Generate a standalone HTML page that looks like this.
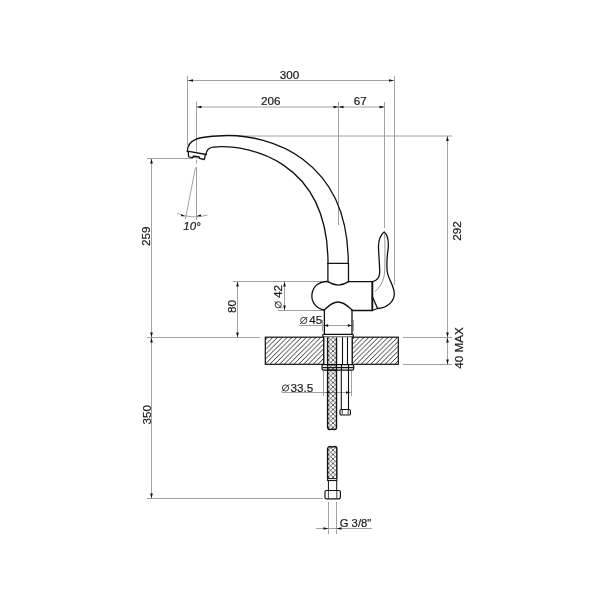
<!DOCTYPE html>
<html><head><meta charset="utf-8"><style>
html,body{margin:0;padding:0;background:#fff;width:600px;height:600px;overflow:hidden}
svg{display:block;font-family:"Liberation Sans",sans-serif;will-change:transform}
</style></head><body>
<svg width="600" height="600" viewBox="0 0 600 600">
<line x1="187.5" y1="76" x2="187.5" y2="145" stroke="#a2a2a2" stroke-width="1"/>
<line x1="196.5" y1="101.5" x2="196.5" y2="151.5" stroke="#a2a2a2" stroke-width="1"/>
<line x1="338.5" y1="102" x2="338.5" y2="225" stroke="#a2a2a2" stroke-width="1"/>
<line x1="384.5" y1="102" x2="384.5" y2="228" stroke="#a2a2a2" stroke-width="1"/>
<line x1="394.5" y1="76" x2="394.5" y2="285" stroke="#a2a2a2" stroke-width="1"/>
<line x1="188" y1="80.5" x2="394" y2="80.5" stroke="#a2a2a2" stroke-width="1"/>
<line x1="196" y1="107" x2="384" y2="107" stroke="#a2a2a2" stroke-width="1"/>
<line x1="238" y1="136" x2="452" y2="136" stroke="#a2a2a2" stroke-width="1"/>
<line x1="447.5" y1="136" x2="447.5" y2="364.5" stroke="#a2a2a2" stroke-width="1"/>
<line x1="147" y1="158.5" x2="193" y2="158.5" stroke="#a2a2a2" stroke-width="1"/>
<line x1="151.5" y1="158" x2="151.5" y2="498.5" stroke="#a2a2a2" stroke-width="1"/>
<line x1="147" y1="337.5" x2="260" y2="337.5" stroke="#a2a2a2" stroke-width="1"/>
<line x1="403" y1="337.5" x2="452" y2="337.5" stroke="#a2a2a2" stroke-width="1"/>
<line x1="403" y1="364.5" x2="452" y2="364.5" stroke="#a2a2a2" stroke-width="1"/>
<line x1="147" y1="498.5" x2="323" y2="498.5" stroke="#a2a2a2" stroke-width="1"/>
<line x1="233" y1="281.5" x2="321" y2="281.5" stroke="#a2a2a2" stroke-width="1"/>
<line x1="237.5" y1="281.5" x2="237.5" y2="337" stroke="#a2a2a2" stroke-width="1"/>
<line x1="284.5" y1="281.5" x2="284.5" y2="310.5" stroke="#a2a2a2" stroke-width="1"/>
<line x1="278" y1="310.5" x2="324" y2="310.5" stroke="#a2a2a2" stroke-width="1"/>
<line x1="299" y1="325.5" x2="353" y2="325.5" stroke="#a2a2a2" stroke-width="1"/>
<line x1="322.5" y1="320" x2="322.5" y2="331" stroke="#a2a2a2" stroke-width="1"/>
<line x1="353.5" y1="320" x2="353.5" y2="331" stroke="#a2a2a2" stroke-width="1"/>
<line x1="281.7" y1="392.5" x2="351.5" y2="392.5" stroke="#a2a2a2" stroke-width="1"/>
<line x1="323.5" y1="370.5" x2="323.5" y2="396" stroke="#a2a2a2" stroke-width="1"/>
<line x1="351.5" y1="370.5" x2="351.5" y2="396" stroke="#a2a2a2" stroke-width="1"/>
<line x1="328.5" y1="502" x2="328.5" y2="534" stroke="#a2a2a2" stroke-width="1"/>
<line x1="336.5" y1="502" x2="336.5" y2="534" stroke="#a2a2a2" stroke-width="1"/>
<line x1="316" y1="528.5" x2="372" y2="528.5" stroke="#a2a2a2" stroke-width="1"/>
<line x1="196.5" y1="160" x2="196.5" y2="163.5" stroke="#a2a2a2" stroke-width="1"/>
<line x1="196.5" y1="167" x2="196.5" y2="220" stroke="#a2a2a2" stroke-width="1"/>
<line x1="195.5" y1="167.5" x2="185.3" y2="219.5" stroke="#a2a2a2" stroke-width="1"/>
<path d="M177.3 213.3 Q192 219.5 207.5 215" fill="none" stroke="#a2a2a2" stroke-width="1"/>
<polygon points="185.50,216.30 180.87,216.28 181.40,214.14" fill="#111"/>
<polygon points="196.50,216.30 200.60,214.14 201.13,216.28" fill="#111"/>
<polygon points="188.00,80.50 193.00,79.20 193.00,81.80" fill="#111"/>
<polygon points="394.00,80.50 389.00,81.80 389.00,79.20" fill="#111"/>
<polygon points="196.50,107.00 201.50,105.70 201.50,108.30" fill="#111"/>
<polygon points="338.50,107.00 333.50,108.30 333.50,105.70" fill="#111"/>
<polygon points="338.50,107.00 343.50,105.70 343.50,108.30" fill="#111"/>
<polygon points="384.50,107.00 379.50,108.30 379.50,105.70" fill="#111"/>
<polygon points="447.50,136.00 448.80,141.00 446.20,141.00" fill="#111"/>
<polygon points="447.50,337.50 446.20,332.50 448.80,332.50" fill="#111"/>
<polygon points="447.50,337.50 448.80,342.50 446.20,342.50" fill="#111"/>
<polygon points="447.50,364.50 446.20,359.50 448.80,359.50" fill="#111"/>
<polygon points="151.50,158.50 152.80,163.50 150.20,163.50" fill="#111"/>
<polygon points="151.50,337.50 150.20,332.50 152.80,332.50" fill="#111"/>
<polygon points="151.50,337.50 152.80,342.50 150.20,342.50" fill="#111"/>
<polygon points="151.50,498.50 150.20,493.50 152.80,493.50" fill="#111"/>
<polygon points="237.50,281.50 238.80,286.50 236.20,286.50" fill="#111"/>
<polygon points="237.50,337.50 236.20,332.50 238.80,332.50" fill="#111"/>
<polygon points="284.50,281.50 285.80,286.50 283.20,286.50" fill="#111"/>
<polygon points="284.50,310.50 283.20,305.50 285.80,305.50" fill="#111"/>
<polygon points="324.50,325.50 328.10,324.00 328.10,327.00" fill="#111"/>
<polygon points="351.50,325.50 347.90,327.00 347.90,324.00" fill="#111"/>
<polygon points="325.50,392.50 329.50,391.20 329.50,393.80" fill="#111"/>
<polygon points="350.00,392.50 346.00,393.80 346.00,391.20" fill="#111"/>
<polygon points="328.50,528.50 323.50,529.80 323.50,527.20" fill="#111"/>
<polygon points="336.50,528.50 341.50,527.20 341.50,529.80" fill="#111"/>
<g fill="none" stroke="#111" stroke-width="1.3" stroke-linejoin="round" stroke-linecap="round">
<path d="M187.3 151.5 C187.5 140 196 136 228 135.5 C266.9 135.5 348.3 156 348.3 263.4"/>
<path d="M206 154.5 C206.8 148.5 209.5 146.5 222 146.7 C244.5 146.7 328 157 328 263.4"/>
<path d="M187.3 151.2 L206.3 154.5"/>
<path d="M193.6 155.9 L199 156.6 L199.3 158.3 L193.4 157.5 Z" fill="#ccc" stroke="#555" stroke-width="0.6"/>
<path d="M188.3 152.4 L188.6 156.5 Q189 157.3 192.5 157.6 L193.5 156.1 L199 156.8 L199.8 158.4 L203.8 159.5 Q204.6 159.3 204.7 158.4 L205.2 155"/>
<path d="M327.9 263.4 L348.5 263.4"/>
<path d="M327.9 263.4 L327.9 281.6 M348.5 263.4 L348.5 281.6"/>
<path d="M327.9 281.6 Q338.2 288.5 348.5 281.6"/>
<path d="M348.5 281.6 L372.3 281.6"/>
<path d="M327.9 281.6 A14.3 14.3 0 1 0 324.4 310"/>
<path d="M324.4 310 C327.5 307 331.5 302 338 302 C344.5 302 348.5 307 352 310"/>
<path d="M352 310.5 L372.3 310.5"/>
<path d="M324.4 310 L324.4 334.5 M352 310 L352 334.5"/>
<path d="M372.5 281.7 C377 280.5 379.6 277.5 379.7 272.5 C379.8 265 378.4 253 378.5 246 C378.6 239 381 234.5 384.2 232 C387.2 234.5 388.6 240 388.3 247 C387.6 254 386 262 387.3 272 C388.5 280 394.5 286 394.3 294 C394 302 387 308 377.5 308.5 L372.3 310.5"/>
<path d="M372.3 296.5 L377.5 308.3"/>
</g>
<path d="M372.3 281.6 L372.3 310.5" stroke="#111" stroke-width="1.9"/>
<path d="M384.6 234 C385.2 245 385 262 384.6 272 C384 282 379 288 375 291.7" fill="none" stroke="#888" stroke-width="0.9"/>
<rect x="322.7" y="334.4" width="30.7" height="2.8" rx="1.2" fill="#fff" stroke="#111" stroke-width="1.2"/>
<defs><pattern id="hatch" patternUnits="userSpaceOnUse" width="4.8" height="4.8" x="0.5" y="0"><path d="M-1 1 L1 -1 M0 4.8 L4.8 0 M3.8 5.8 L5.8 3.8" stroke="#1a1a1a" stroke-width="0.9"/></pattern><pattern id="braid" patternUnits="userSpaceOnUse" width="4.5" height="4.5"><path d="M0 0 L4.5 4.5 M4.5 0 L0 4.5" stroke="#333" stroke-width="0.75"/></pattern></defs>
<rect x="265.3" y="337.2" width="58.4" height="27.1" fill="url(#hatch)" stroke="#111" stroke-width="1.2"/>
<rect x="352.2" y="337.2" width="46.1" height="27.1" fill="url(#hatch)" stroke="#111" stroke-width="1.2"/>
<rect x="323.9" y="337.2" width="28.2" height="27.1" fill="#fff"/>
<line x1="323.9" y1="337.2" x2="323.9" y2="364.5" stroke="#111" stroke-width="1.1"/>
<line x1="342.5" y1="337.2" x2="342.5" y2="364.5" stroke="#111" stroke-width="1.1"/>
<line x1="347.5" y1="337.2" x2="347.5" y2="364.5" stroke="#111" stroke-width="1.1"/>
<line x1="352.1" y1="337.2" x2="352.1" y2="364.5" stroke="#111" stroke-width="1.1"/>
<path d="M327.6 337.2 L327.6 427.5 Q328 429.6 330 429.6 Q332 429.6 332.1 428.3 Q332.3 429.6 334.4 429.6 Q336.5 429.6 336.5 427.5 L336.5 337.2" fill="url(#braid)" stroke="#111" stroke-width="1.4"/>
<rect x="322" y="364.6" width="31.7" height="5.6" rx="1.6" fill="#fff" stroke="#111" stroke-width="1.2"/>
<line x1="322.5" y1="367.6" x2="353.2" y2="367.6" stroke="#111" stroke-width="1.3"/>
<rect x="327.6" y="364.6" width="8.9" height="5.6" fill="url(#braid)" stroke="#111" stroke-width="1.2"/>
<line x1="341.5" y1="365" x2="341.5" y2="370" stroke="#111" stroke-width="1.1"/>
<line x1="348.5" y1="365" x2="348.5" y2="370" stroke="#111" stroke-width="1.1"/>
<line x1="341.3" y1="370.2" x2="341.3" y2="409.5" stroke="#111" stroke-width="1.1"/>
<line x1="348.5" y1="370.2" x2="348.5" y2="409.5" stroke="#111" stroke-width="1.1"/>
<rect x="340" y="409.5" width="10.4" height="5.5" rx="1.3" fill="#fff" stroke="#111" stroke-width="1.1"/>
<line x1="342.2" y1="410" x2="342.2" y2="414.5" stroke="#111" stroke-width="0.8"/>
<line x1="348.2" y1="410" x2="348.2" y2="414.5" stroke="#111" stroke-width="0.8"/>
<path d="M327.6 478.6 L327.6 448.5 Q328 446.5 330 446.5 Q332 446.5 332.2 447.7 Q332.4 446.5 334.6 446.5 Q336.8 446.5 336.8 448.5 L336.8 478.6" fill="url(#braid)" stroke="#111" stroke-width="1.4"/>
<rect x="327.6" y="478.6" width="9.2" height="2" fill="#fff" stroke="#111" stroke-width="1"/>
<rect x="328.4" y="480.6" width="8.3" height="9.9" fill="#fff" stroke="#111" stroke-width="1"/>
<rect x="325" y="490.5" width="15.4" height="8.3" rx="1.6" fill="#fff" stroke="#111" stroke-width="1.2"/>
<line x1="328.4" y1="491" x2="328.4" y2="498.3" stroke="#111" stroke-width="0.8"/>
<line x1="336.8" y1="491" x2="336.8" y2="498.3" stroke="#111" stroke-width="0.8"/>
<text x="289.4" y="78.5" font-size="11.7" text-anchor="middle" fill="#1a1a1a" stroke="#1a1a1a" stroke-width="0.2">300</text>
<text x="270.7" y="105" font-size="11.7" text-anchor="middle" fill="#1a1a1a" stroke="#1a1a1a" stroke-width="0.2">206</text>
<text x="360.3" y="105" font-size="11.7" text-anchor="middle" fill="#1a1a1a" stroke="#1a1a1a" stroke-width="0.2">67</text>
<text x="192" y="229.8" font-size="11.5" text-anchor="middle" fill="#1a1a1a" stroke="#1a1a1a" stroke-width="0.2" font-style="italic">10°</text>
<text x="150" y="236.3" font-size="11.7" text-anchor="middle" fill="#1a1a1a" stroke="#1a1a1a" stroke-width="0.2" transform="rotate(-90 150 236.3)">259</text>
<text x="460.5" y="231" font-size="11.7" text-anchor="middle" fill="#1a1a1a" stroke="#1a1a1a" stroke-width="0.2" transform="rotate(-90 460.5 231)">292</text>
<text x="235.6" y="306.5" font-size="11.7" text-anchor="middle" fill="#1a1a1a" stroke="#1a1a1a" stroke-width="0.2" transform="rotate(-90 235.6 306.5)">80</text>
<text x="282.2" y="291.5" font-size="11.7" text-anchor="middle" fill="#1a1a1a" stroke="#1a1a1a" stroke-width="0.2" transform="rotate(-90 282.2 291.5)">42</text>
<g transform="rotate(-90 278.2 304.8)" fill="none" stroke="#222" stroke-width="0.9"><circle cx="278.2" cy="304.8" r="3.1"/><line x1="274.59999999999997" y1="308.40000000000003" x2="281.8" y2="301.2"/></g>
<text x="315.7" y="323.6" font-size="11.7" text-anchor="middle" fill="#1a1a1a" stroke="#1a1a1a" stroke-width="0.2">45</text>
<g fill="none" stroke="#222" stroke-width="0.9"><circle cx="303.7" cy="320.5" r="3.1"/><line x1="300.09999999999997" y1="324.1" x2="307.3" y2="316.9"/></g>
<text x="301.8" y="391.8" font-size="11.7" text-anchor="middle" fill="#1a1a1a" stroke="#1a1a1a" stroke-width="0.2">33.5</text>
<g fill="none" stroke="#222" stroke-width="0.9"><circle cx="285.5" cy="388" r="3.1"/><line x1="281.9" y1="391.6" x2="289.1" y2="384.4"/></g>
<text x="150.6" y="414.7" font-size="11.7" text-anchor="middle" fill="#1a1a1a" stroke="#1a1a1a" stroke-width="0.2" transform="rotate(-90 150.6 414.7)">350</text>
<text x="463.2" y="348" font-size="11.7" text-anchor="middle" fill="#1a1a1a" stroke="#1a1a1a" stroke-width="0.2" transform="rotate(-90 463.2 348)">40 MAX</text>
<text x="355.5" y="526.7" font-size="11.3" text-anchor="middle" fill="#1a1a1a" stroke="#1a1a1a" stroke-width="0.2">G 3/8"</text>
</svg></body></html>
